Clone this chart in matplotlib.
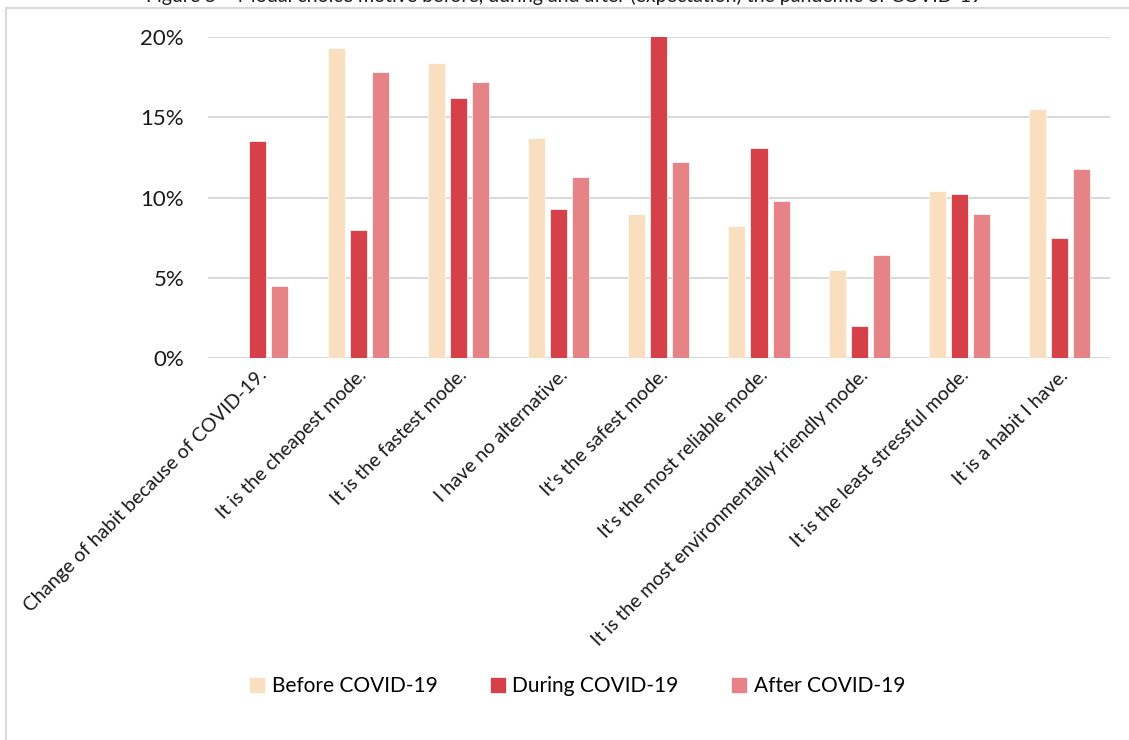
import numpy as np
import matplotlib.pyplot as plt
from matplotlib.patches import Rectangle
from matplotlib.ticker import PercentFormatter

plt.rcParams['font.family'] = ['Lato', 'DejaVu Sans']

categories = [
    "Change of habit because of COVID-19.",
    "It is the cheapest mode.",
    "It is the fastest mode.",
    "I have no alternative.",
    "It's the safest mode.",
    "It's the most reliable mode.",
    "It is the most environmentally friendly mode.",
    "It is the least stressful mode.",
    "It is a habit I have.",
]
before = [0.0, 19.3, 18.4, 13.7, 9.0, 8.2, 5.5, 10.4, 15.5]
during = [13.5, 8.0, 16.2, 9.3, 20.1, 13.1, 2.0, 10.2, 7.5]
after = [4.5, 17.8, 17.2, 11.3, 12.2, 9.8, 6.4, 9.0, 11.8]

series = ["Before COVID-19", "During COVID-19", "After COVID-19"]
colors = ["#F9DFBF", "#D64048", "#E68386"]

fig = plt.figure(figsize=(11.29, 7.40), dpi=100)
ax = fig.add_axes([0.184, 0.516, 0.799, 0.434])

# chart frame (Excel-like border, partly cut off)
fig.patches.append(Rectangle((6 / 1129, -0.1), 1.2, 1 - 8 / 740 + 0.1,
                             transform=fig.transFigure, fill=False,
                             edgecolor="#D9D9D9", linewidth=1.5, zorder=0))

x = np.arange(len(categories))
w = 0.17
offset = 0.22
for i, (vals, name, c) in enumerate(zip([before, during, after], series, colors)):
    ax.bar(x + (i - 1) * offset, vals, width=w, color=c, label=name,
           edgecolor="white", linewidth=0.5, zorder=3)

ax.set_xlim(-0.5, len(categories) - 0.5)
ax.set_ylim(0, 20)
ax.set_yticks([0, 5, 10, 15, 20])
ax.yaxis.set_major_formatter(PercentFormatter(decimals=0))
ax.grid(axis="y", color="#D9D9D9", linewidth=1.5, zorder=0)
ax.set_axisbelow(True)
for s in ax.spines.values():
    s.set_visible(False)
ax.tick_params(axis="y", length=0, pad=17, labelsize=16, labelcolor="#1a1a1a")
ax.tick_params(axis="x", length=0, pad=6)
ax.set_xticks(x)
ax.set_xticklabels(categories, rotation=45, ha="right", rotation_mode="anchor",
                   fontsize=14, color="#1a1a1a")

fig.text(0.5, 1.006, "Figure 5 \u2013 Modal choice motive before, during and after (expectation) the pandemic of COVID-19",
         ha="center", va="center", fontsize=14, color="#1a1a1a")

fig.legend(loc="center", bbox_to_anchor=(0.511, 1 - 686 / 740), ncol=3, frameon=False,
           fontsize=15, handlelength=0.8, handleheight=0.8, handletextpad=0.3,
           columnspacing=2.5)

fig.savefig("out.png", dpi=100)
